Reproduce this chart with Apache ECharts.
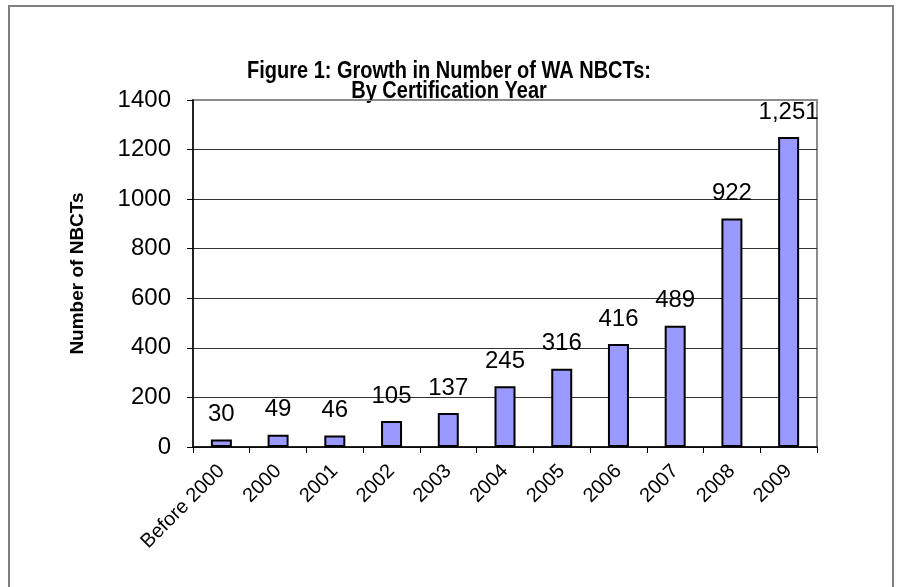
<!DOCTYPE html>
<html>
<head>
<meta charset="utf-8">
<script src="https://cdn.jsdelivr.net/npm/echarts@6/dist/echarts.min.js"></script>
<style>
  html, body { margin: 0; padding: 0; background: #fff; }
  #chart { width: 897px; height: 587px; }
</style>
</head>
<body>
<div id="chart"></div>
<script>
// Certification year buckets and counts of National Board Certified Teachers
const years = ['Before 2000', '2000', '2001', '2002', '2003', '2004', '2005', '2006', '2007', '2008', '2009'];
const nbctCounts = [30, 49, 46, 105, 137, 245, 316, 416, 489, 922, 1251];
const yTicks = { min: 0, max: 1400, step: 200 };
const titleLines = ['Figure 1: Growth in Number of WA NBCTs:', 'By Certification Year'];

const FONT = '"Liberation Sans", Arial, sans-serif';
const chart = echarts.init(document.getElementById('chart'), null, { renderer: 'canvas' });

// one colour per horizontal gridline; the topmost coincides with the gray plot frame
const gridCount = yTicks.max / yTicks.step + 1;
const splitColors = Array.from({ length: gridCount }, (_, i) => (i === gridCount - 1 ? '#8c8c8c' : '#333333'));

// title drawn as two tall, narrow bold lines
const titleGraphics = titleLines.map((line, i) => ({
  type: 'text',
  x: 449,
  y: 71 + i * 20,
  scaleY: 1.18,
  silent: true,
  style: {
    text: line,
    align: 'center',
    verticalAlign: 'middle',
    textAlign: 'center',
    textVerticalAlign: 'middle',
    fontFamily: FONT,
    fontWeight: 'bold',
    fontSize: 20,
    fill: '#000'
  }
}));

chart.setOption({
  animation: false,
  backgroundColor: '#ffffff',
  graphic: [{
    type: 'rect',
    shape: { x: 9, y: 6, width: 884, height: 600 },
    style: { fill: null, stroke: '#7f7f7f', lineWidth: 2 },
    silent: true,
    z: -1
  }].concat(titleGraphics),
  grid: {
    left: 193, right: 80, top: 100, bottom: 140,
    show: true,
    borderColor: '#8c8c8c',
    borderWidth: 2,
    backgroundColor: 'transparent'
  },
  xAxis: {
    type: 'category',
    data: years,
    axisLine: { lineStyle: { color: '#000', width: 1.5 } },
    axisTick: { show: true, length: 6, lineStyle: { color: '#000', width: 1 } },
    axisLabel: {
      rotate: 45,
      interval: 0,
      margin: 21,
      fontFamily: FONT,
      fontSize: 20,
      color: '#000'
    }
  },
  yAxis: {
    type: 'value',
    min: yTicks.min,
    max: yTicks.max,
    interval: yTicks.step,
    name: 'Number of NBCTs',
    nameLocation: 'middle',
    nameGap: 106,
    nameRotate: 90,
    nameTextStyle: {
      fontFamily: FONT,
      fontWeight: 'bold',
      fontSize: 19,
      color: '#000'
    },
    axisLine: { show: true, lineStyle: { color: '#000', width: 1.5 } },
    axisTick: { show: true, length: 6, lineStyle: { color: '#000', width: 1 } },
    axisLabel: {
      margin: 22,
      fontFamily: FONT,
      fontSize: 24,
      color: '#000',
      formatter: v => String(v)
    },
    splitLine: { show: true, lineStyle: { color: splitColors, width: 1 } }
  },
  series: [{
    type: 'bar',
    data: nbctCounts,
    barWidth: 21,
    itemStyle: { color: '#9999ff', borderColor: '#000', borderWidth: 2 },
    label: {
      show: true,
      position: 'top',
      distance: 13,
      fontFamily: FONT,
      fontSize: 24,
      color: '#000',
      formatter: p => p.value.toLocaleString('en-US')
    }
  }]
});
</script>
</body>
</html>
